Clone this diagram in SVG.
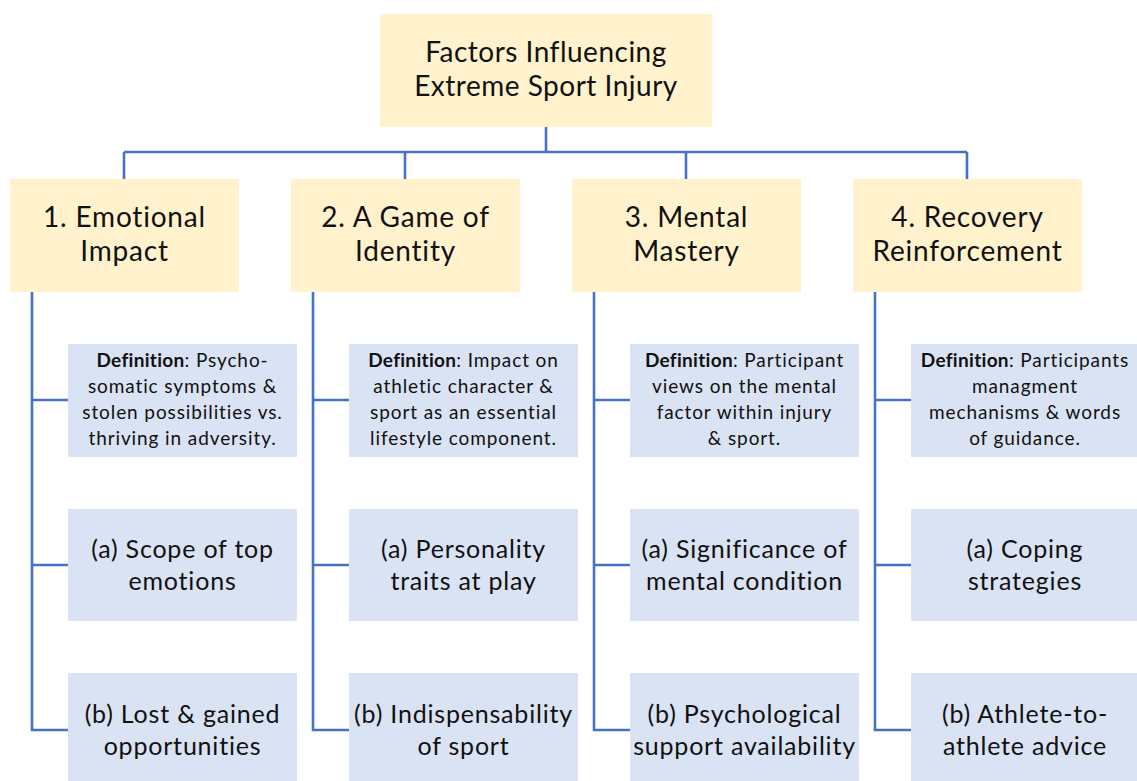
<svg xmlns="http://www.w3.org/2000/svg" width="1137" height="781" viewBox="0 0 1137 781">
<style>
.y{fill:#FFF2CC}
.b{fill:#DAE3F3}
.c{stroke:#4472C4;stroke-width:2.6;fill:none}
text{font-family:Lato,"Open Sans",sans-serif;fill:#111111;text-anchor:middle}
.t0{font-size:28px;letter-spacing:0.5px}
.t1{font-size:28px;letter-spacing:0.8px}
.td{font-size:19px;letter-spacing:0.9px}
.ta{font-size:25px;letter-spacing:0.8px}
.bold{font-weight:bold;letter-spacing:0.3px}
</style>
<rect width="1137" height="781" fill="#ffffff"/>
<g id="connectors" class="c">
<path d="M546 127V152M124 152H967M124 152V179M405 152V179M686 152V179M967 152V179"/>
<path d="M32 292V730H68M32 400H68M32 565H68"/>
<path d="M313 292V730H349M313 400H349M313 565H349"/>
<path d="M594 292V730H630M594 400H630M594 565H630"/>
<path d="M875 292V730H911M875 400H911M875 565H911"/>
</g>
<g id="root"><rect class="y" x="380" y="14" width="332" height="113"/>
<text class="t0" x="546" y="62">Factors Influencing</text><text class="t0" x="546" y="96">Extreme Sport Injury</text></g>

<g id="c1"><rect class="y" x="10" y="179" width="229" height="113"/>
<text class="t1" x="124.5" y="227">1. Emotional</text><text class="t1" x="124.5" y="261">Impact</text></g>
<g id="c2"><rect class="y" x="291" y="179" width="229" height="113"/>
<text class="t1" x="405.5" y="227">2. A Game of</text><text class="t1" x="405.5" y="261">Identity</text></g>
<g id="c3"><rect class="y" x="572" y="179" width="229" height="113"/>
<text class="t1" x="686.5" y="227">3. Mental</text><text class="t1" x="686.5" y="261">Mastery</text></g>
<g id="c4"><rect class="y" x="853" y="179" width="229" height="113"/>
<text class="t1" x="967.5" y="227">4. Recovery</text><text class="t1" x="967.5" y="261">Reinforcement</text></g>

<g id="d1"><rect class="b" x="68" y="344" width="229" height="113"/>
<text class="td" x="182.5" y="367"><tspan class="bold">Definition</tspan>: Psycho-</text>
<text class="td" x="182.5" y="393">somatic symptoms &amp;</text>
<text class="td" x="182.5" y="419">stolen possibilities vs.</text>
<text class="td" x="182.5" y="445">thriving in adversity.</text></g>
<g id="d2"><rect class="b" x="349" y="344" width="229" height="113"/>
<text class="td" x="463.5" y="367"><tspan class="bold">Definition</tspan>: Impact on</text>
<text class="td" x="463.5" y="393">athletic character &amp;</text>
<text class="td" x="463.5" y="419">sport as an essential</text>
<text class="td" x="463.5" y="445">lifestyle component.</text></g>
<g id="d3"><rect class="b" x="630" y="344" width="229" height="113"/>
<text class="td" x="744.5" y="367"><tspan class="bold">Definition</tspan>: Participant</text>
<text class="td" x="744.5" y="393">views on the mental</text>
<text class="td" x="744.5" y="419">factor within injury</text>
<text class="td" x="744.5" y="445">&amp; sport.</text></g>
<g id="d4"><rect class="b" x="911" y="344" width="226" height="113"/>
<text class="td" x="1025" y="367"><tspan class="bold">Definition</tspan>: Participants</text>
<text class="td" x="1025" y="393">managment</text>
<text class="td" x="1025" y="419">mechanisms &amp; words</text>
<text class="td" x="1025" y="445">of guidance.</text></g>

<g id="a1"><rect class="b" x="68" y="509" width="229" height="112"/>
<text class="ta" x="182.5" y="558">(a) Scope of top</text><text class="ta" x="182.5" y="590">emotions</text></g>
<g id="a2"><rect class="b" x="349" y="509" width="229" height="112"/>
<text class="ta" x="463.5" y="558">(a) Personality</text><text class="ta" x="463.5" y="590">traits at play</text></g>
<g id="a3"><rect class="b" x="630" y="509" width="229" height="112"/>
<text class="ta" x="744.5" y="558">(a) Significance of</text><text class="ta" x="744.5" y="590">mental condition</text></g>
<g id="a4"><rect class="b" x="911" y="509" width="226" height="112"/>
<text class="ta" x="1025" y="558">(a) Coping</text><text class="ta" x="1025" y="590">strategies</text></g>

<g id="b1"><rect class="b" x="68" y="673" width="229" height="113"/>
<text class="ta" x="182.5" y="723">(b) Lost &amp; gained</text><text class="ta" x="182.5" y="755">opportunities</text></g>
<g id="b2"><rect class="b" x="349" y="673" width="229" height="113"/>
<text class="ta" x="463.5" y="723">(b) Indispensability</text><text class="ta" x="463.5" y="755">of sport</text></g>
<g id="b3"><rect class="b" x="630" y="673" width="229" height="113"/>
<text class="ta" x="744.5" y="723">(b) Psychological</text><text class="ta" x="744.5" y="755">support availability</text></g>
<g id="b4"><rect class="b" x="911" y="673" width="226" height="113"/>
<text class="ta" x="1025" y="723">(b) Athlete-to-</text><text class="ta" x="1025" y="755">athlete advice</text></g>
</svg>
